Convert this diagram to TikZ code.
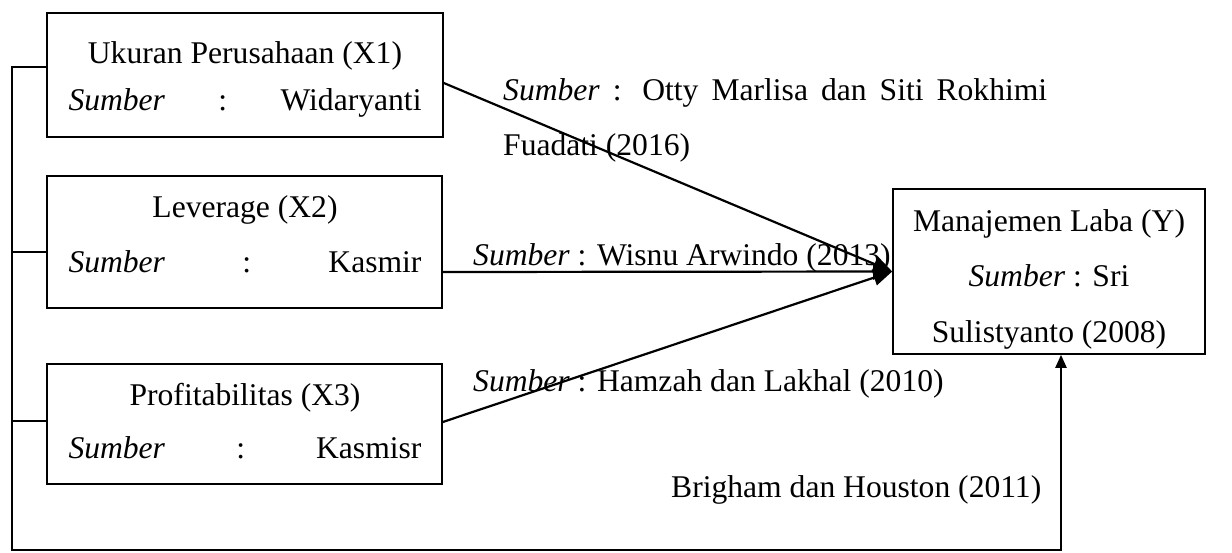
\documentclass[tikz,border=0pt]{standalone}
\usepackage{fontspec}
\setmainfont{Liberation Serif}
\usetikzlibrary{arrows.meta}
\begin{document}
\begin{tikzpicture}[x=1pt,y=-1pt,
  box/.style={draw, line width=1.6pt, rectangle, inner sep=0pt},
  txt/.style={anchor=base, inner sep=0pt, font=\fontsize{31.6}{38}\selectfont},
  ltxt/.style={txt, anchor=base west},
  conn/.style={line width=2.2pt},
  arr/.style={conn, -{Triangle[length=19pt,width=16pt]}},
  sarr/.style={conn, -{Triangle[length=13pt,width=11pt]}}]
\useasboundingbox (0,0) rectangle (1232,552);
% boxes
\node[box, minimum width=396pt, minimum height=124pt] (x1) at (245,75) {};
\node[box, minimum width=395pt, minimum height=132pt] (x2) at (244.5,242) {};
\node[box, minimum width=395pt, minimum height=120pt] (x3) at (244.5,424) {};
\node[box, minimum width=312pt, minimum height=165pt] (yb) at (1049,271.5) {};
% box texts
\node[txt] (x1a) at (245,63) {Ukuran Perusahaan (X1)};
\node[txt] (x1b) at (245,110) {\makebox[353pt]{\textit{Sumber}\hfill:\hfill Widaryanti}};
\node[txt] (x2a) at (245,217) {Leverage (X2)};
\node[txt] (x2b) at (245,272) {\makebox[353pt]{\textit{Sumber}\hfill:\hfill Kasmir}};
\node[txt] (x3a) at (245,405) {Profitabilitas (X3)};
\node[txt] (x3b) at (245,458) {\makebox[353pt]{\textit{Sumber}\hfill:\hfill Kasmisr}};
\node[txt] (ya) at (1049,231) {Manajemen Laba (Y)};
\node[txt] (yb2) at (1049,286) {\textit{Sumber} : Sri};
\node[txt] (yc) at (1049,342) {Sulistyanto (2008)};
% connector labels
\node[ltxt] (l1a) at (503,100) {\makebox[544pt][s]{\textit{Sumber} : Otty Marlisa dan Siti Rokhimi}};
\node[ltxt] (l1b) at (503,155) {Fuadati (2016)};
\node[ltxt] (l2) at (473,265) {\textit{Sumber} : Wisnu Arwindo (2013)};
\node[ltxt] (l3) at (473,391) {\textit{Sumber} : Hamzah dan Lakhal (2010)};
\node[ltxt] (l4) at (671,497) {Brigham dan Houston (2011)};
% connectors
\draw[arr] ([yshift=-8pt]x1.east) -- (yb.west);
\draw[arr] ([yshift=-30pt]x2.east) -- (yb.west);
\draw[arr] ([yshift=2pt]x3.east) -- (yb.west);
\coordinate (lt) at (12,67);
\coordinate (lb) at (12,550);
\coordinate (rb) at (1061,550);
\draw[sarr] ([yshift=8pt]x1.west) -- (lt) -- (lb) -- (rb) -- (rb |- yb.south);
\draw[conn] ([yshift=-10pt]x2.west) -- ([yshift=-10pt]x2.west -| lt);
\draw[conn] ([yshift=3pt]x3.west) -- ([yshift=3pt]x3.west -| lt);
\end{tikzpicture}
\end{document}
